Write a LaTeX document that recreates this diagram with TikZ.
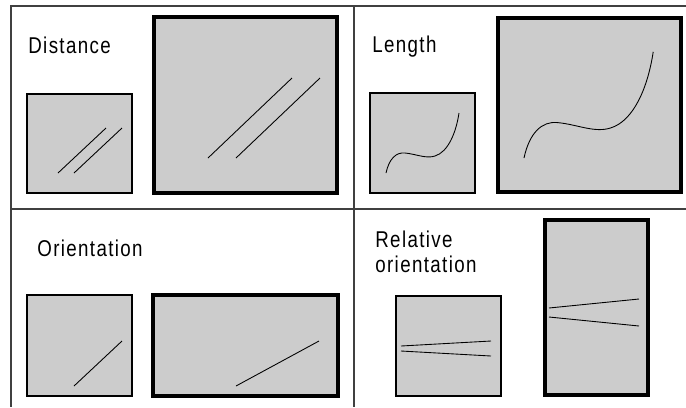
\documentclass[tikz,border=0pt]{standalone}
\usepackage{fontspec}
\setmainfont{Liberation Sans}
\newfontfamily\labfont[FakeStretch=0.82,LetterSpace=6]{Liberation Sans}
\usetikzlibrary{positioning}
\definecolor{Panel}{HTML}{CCCCCC}
\tikzset{
  frame/.style={draw=black!75,line width=.6pt},
  lab/.style={anchor=base west,inner sep=0pt,font=\labfont\fontsize{13}{14.2}\selectfont,align=left},
  seg/.style={line width=.5pt}
}
\newcommand{\wiggle}{(0,0) .. controls (3,-14) and (10,-21) .. (19,-20) .. controls (30,-19) and (40,-14) .. (49,-17) .. controls (62,-21) and (70,-40) .. (73,-60)}
\begin{document}
\begin{tikzpicture}[x=.02cm,y=-.02cm]
\useasboundingbox (0,0) rectangle (686,407);
\draw[frame](686,6)--(11,6)--(11,407);
\draw[frame](354,6)--(354,407);
\draw[frame](11,209)--(686,209);
\foreach \xa/\ya/\xb/\yb/\w in {27/94/132/193/1.2,154/17/337/193/2.4,370/93/475/193/1.2,498/18/681/192/2.4,27/295/132/396/1.2,153/295/338/396/1.8,396/296/501/396/1.2,545/220/648/395/2.2}{
\draw[fill=Panel,line width=\w pt](\xa,\ya)rectangle(\xb,\yb);}
\node[lab](dist)at(28,53){Distance};
\node[lab](len)at(372,52){Length};
\node[lab](orient)at(37,256){Orientation};
\node[lab](relor)at(375,272){Relative\\orientation};
\foreach \d in {0,16}{\draw[seg](58+\d,173)--(106+\d,128);}
\foreach \d in {0,28}{\draw[seg](208+\d,158)--(292+\d,78);}
\draw[seg,shift={(386,173)}]\wiggle;
\draw[seg,shift={(524,158)},scale=1.77]\wiggle;
\draw[seg](74,386)--(122,341);
\draw[seg](236,386)--(319,341);
\draw[seg](401,346)--(491,341);
\draw[seg](401,351)--(491,356);
\draw[seg](549,308)--(639,299);
\draw[seg](549,317)--(639,326);
\end{tikzpicture}
\end{document}
